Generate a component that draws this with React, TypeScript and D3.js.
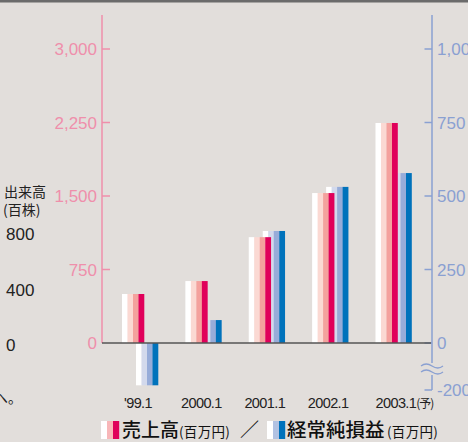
import React from "react";
import * as d3 from "d3";

const categories = ["'99.1", "2000.1", "2001.1", "2002.1", "2003.1"];
const sales = [500, 632, 1080, 1530, 2245];
const profit = [-180, 78, 381, 531, 578];
const leftTicks = [0, 750, 1500, 2250, 3000];
const rightTicks = [0, 250, 500, 750, 1000];
const rightNegTick = -200;
const salesColors = ["#ffffff", "#fbd9d3", "#f4a19d", "#e0005a"];
const profitColors = ["#ffffff", "#d3d9ec", "#97acd9", "#0072bb"];
const volumeTicks = ["800", "400", "0"];

const W = 468, H = 442;
const BG = "#e2dedb";
const PINK = "#ef8fab";
const BLUE = "#8aa0d2";
const NUM = "'Liberation Sans', Arial, Helvetica, sans-serif";
const CJK = "'Noto Sans CJK JP', 'Noto Sans', sans-serif";

export default function App() {
  const x = d3.scalePoint<string>().domain(categories).range([140, 393.5]);
  const yL = d3.scaleLinear().domain([0, 3000]).range([343, 49]);
  const yR = d3.scaleLinear().domain([-200, 0, 1000]).range([390, 343, 49]);
  const subW = 5.5;
  const groupHalf = 18;
  const profitOffset = 14;
  const leftX = 102, rightX = 432, axisTop = 15;

  return (
    <svg width={W} height={H} style={{ position: "absolute", left: 0, top: 0 }}>
      <rect x={0} y={0} width={W} height={H} fill={BG} />
      <rect x={0} y={0} width={W} height={2.5} fill="#6b6b6b" />

      {/* left volume remnants */}
      <text x={4} y={197} fontFamily={CJK} fontSize={14} fill="#222">出来高</text>
      <text x={3} y={215} fontFamily={CJK} fontSize={14} fill="#222">(百株)</text>
      {volumeTicks.map((t, i) => (
        <text key={t} x={6} y={[240, 296, 351][i]} fontFamily={NUM} fontSize={17} fill="#222">{t}</text>
      ))}
      <text x={-6} y={403} fontFamily={CJK} fontSize={14} fill="#222">へ。</text>

      {/* left axis */}
      <line x1={leftX} x2={leftX} y1={axisTop} y2={yL(0)} stroke={PINK} strokeWidth={1.5} />
      {leftTicks.map((t) => (
        <g key={"l" + t}>
          {t !== 0 && <line x1={leftX} x2={leftX + 8} y1={yL(t)} y2={yL(t)} stroke={PINK} strokeWidth={1.5} />}
          <text x={97} y={yL(t)} dy="0.36em" textAnchor="end" fontFamily={NUM} fontSize={17} fill={PINK}>
            {d3.format(",")(t)}
          </text>
        </g>
      ))}

      {/* right axis */}
      <line x1={rightX} x2={rightX} y1={axisTop} y2={363} stroke={BLUE} strokeWidth={1.5} />
      <line x1={rightX} x2={rightX} y1={375} y2={yR(rightNegTick)} stroke={BLUE} strokeWidth={1.5} />
      <path d="M421,366 q5,-4 11,0 t11,0" fill="none" stroke={BLUE} strokeWidth={1.3} />
      <path d="M421,372 q5,-4 11,0 t11,0" fill="none" stroke={BLUE} strokeWidth={1.3} />
      {rightTicks.map((t) => (
        <g key={"r" + t}>
          <line x1={rightX - 7.5} x2={rightX} y1={yR(t)} y2={yR(t)} stroke={BLUE} strokeWidth={1.5} />
          <text x={437} y={yR(t)} dy="0.36em" fontFamily={NUM} fontSize={17} fill={BLUE}>
            {d3.format(",")(t)}
          </text>
        </g>
      ))}
      <line x1={rightX - 7.5} x2={rightX} y1={yR(rightNegTick)} y2={yR(rightNegTick)} stroke={BLUE} strokeWidth={1.5} />
      <text x={437} y={yR(rightNegTick)} dy="0.36em" fontFamily={NUM} fontSize={17} fill={BLUE}>
        {rightNegTick}
      </text>

      {/* bars: profit behind sales */}
      {categories.map((c, i) => {
        const start = (x(c) as number) - groupHalf;
        const pv = profit[i];
        const py0 = yR(Math.max(0, pv));
        const py1 = yR(Math.min(0, pv));
        return (
          <g key={"p" + c}>
            {profitColors.map((col, j) => (
              <rect key={j} x={start + profitOffset + j * subW} y={py0} width={subW + 0.3} height={py1 - py0} fill={col} />
            ))}
          </g>
        );
      })}
      {categories.map((c, i) => {
        const start = (x(c) as number) - groupHalf;
        const sy = yL(sales[i]);
        return (
          <g key={"s" + c}>
            {salesColors.map((col, j) => (
              <rect key={j} x={start + j * subW} y={sy} width={subW + 0.3} height={yL(0) - sy} fill={col} />
            ))}
          </g>
        );
      })}

      {/* baseline */}
      <line x1={leftX} x2={rightX - 1} y1={yL(0)} y2={yL(0)} stroke="#555" strokeWidth={1.6} />

      {/* x labels */}
      {categories.map((c, i) => {
        const cx = (x(c) as number) - 2;
        if (i === categories.length - 1) {
          return (
            <text key={"x" + c} x={cx - 16} y={408} fontFamily={NUM} fontSize={14.5} letterSpacing={-0.6} fill="#222">
              {c}
              <tspan fontFamily={CJK} fontSize={12} letterSpacing={-1}>(予)</tspan>
            </text>
          );
        }
        return (
          <text key={"x" + c} x={cx} y={408} textAnchor="middle" fontFamily={NUM} fontSize={14.5} letterSpacing={-0.6} fill="#222">
            {c}
          </text>
        );
      })}

      {/* legend */}
      <g>
        {["#ffffff", "#f8b7b9", "#e0005a"].map((col, j) => (
          <rect key={"lp" + j} x={101 + j * 6} y={421} width={6.2} height={18} fill={col} />
        ))}
        <text x={122} y={437} fontFamily={CJK} fontSize={19} fontWeight={500} fill="#111">売上高</text>
        <text x={179} y={437} fontFamily={CJK} fontSize={13.5} letterSpacing={0.3} fill="#111">(百万円)</text>
        <text x={240} y={437} fontFamily={CJK} fontSize={19} fill="#111">／</text>
        {["#ffffff", "#b2c2e2", "#0072bb"].map((col, j) => (
          <rect key={"lb" + j} x={267 + j * 6} y={421} width={6.2} height={18} fill={col} />
        ))}
        <text x={287} y={437} fontFamily={CJK} fontSize={19.5} fontWeight={500} fill="#111">経常純損益</text>
        <text x={387} y={437} fontFamily={CJK} fontSize={13.5} letterSpacing={0.3} fill="#111">(百万円)</text>
      </g>
    </svg>
  );
}
